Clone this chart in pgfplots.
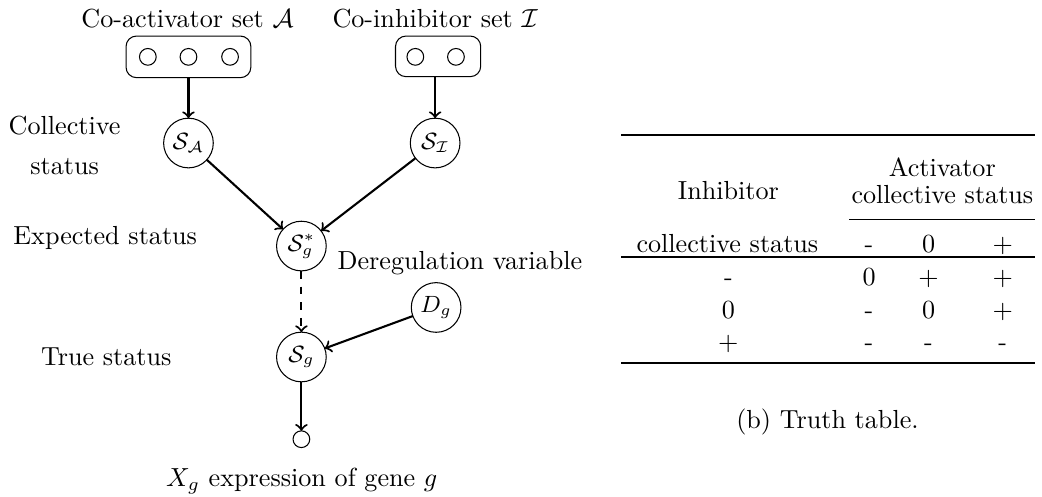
\documentclass[border=0pt]{standalone}
\usepackage{pgfplots}
\pgfplotsset{compat=1.18}
\begin{document}
\begin{tikzpicture}[tx/.style={anchor=base}]
\begin{axis}[
  scale only axis, width=394.9pt, height=188.7pt,
  xmin=0, xmax=1042, ymin=0, ymax=498, y dir=reverse,
  axis lines=none, clip=false, ticks=none]
\path (axis cs:0,0) (axis cs:1042,498);
% big nodes
\addplot[only marks, mark=o, mark size=9.5pt, mark options={line width=0.4pt}, black]
  coordinates {(188,141) (437,141) (302,245) (438,307) (302,357)};
% small nodes
\addplot[only marks, mark=o, mark size=3.2pt, mark options={line width=0.4pt}, black]
  coordinates {(147,54) (188,54) (230,54) (417,54) (458,54) (302,440)};
% boxes
\draw[rounded corners=4pt] (axis cs:125,33) rectangle (axis cs:251,75);
\draw[rounded corners=4pt] (axis cs:397,33) rectangle (axis cs:483,74);
% arrows
\draw[->, thick, shorten >=9.5pt] (axis cs:188,75) -- (axis cs:188,141);
\draw[->, thick, shorten >=9.5pt] (axis cs:437,74) -- (axis cs:437,141);
\draw[->, thick, shorten <=9.5pt, shorten >=9.5pt] (axis cs:188,141) -- (axis cs:302,245);
\draw[->, thick, shorten <=9.5pt, shorten >=9.5pt] (axis cs:437,141) -- (axis cs:302,245);
\draw[->, thick, dashed, shorten <=9.5pt, shorten >=9.5pt] (axis cs:302,245) -- (axis cs:302,357);
\draw[->, thick, shorten <=9.5pt, shorten >=9.5pt] (axis cs:438,307) -- (axis cs:302,357);
\draw[->, thick, shorten <=9.5pt, shorten >=3.2pt] (axis cs:302,357) -- (axis cs:302,440);
% node labels
\node at (axis cs:188,141) {\small$\mathcal{S}_{\mathcal{A}}$};
\node at (axis cs:437,141) {\small$\mathcal{S}_{\mathcal{I}}$};
\node at (axis cs:302,245) {\small$\mathcal{S}^{*}_{g}$};
\node at (axis cs:438,307) {\small$D_g$};
\node at (axis cs:302,357) {\small$\mathcal{S}_{g}$};
% texts
\node[tx] at (axis cs:187,24) {Co-activator set $\mathcal{A}$};
\node[tx] at (axis cs:437,24) {Co-inhibitor set $\mathcal{I}$};
\node[tx] at (axis cs:63,132) {Collective};
\node[tx] at (axis cs:63,173) {status};
\node[tx] at (axis cs:104,243) {Expected status};
\node[tx] at (axis cs:462,269) {Deregulation variable};
\node[tx] at (axis cs:105,366) {True status};
\node[anchor=base west, inner sep=0pt] at (axis cs:165,488) {$X_g$ expression of gene $g$};
% table
\draw[line width=0.8pt] (axis cs:625,133) -- (axis cs:1042,133);
\node[tx] at (axis cs:949,175) {Activator};
\node[tx] at (axis cs:949,202) {collective status};
\draw[line width=0.5pt] (axis cs:855,218) -- (axis cs:1042,218);
\node[tx] at (axis cs:733,198) {Inhibitor};
\node[tx] at (axis cs:732,252) {collective status};
\node[tx] at (axis cs:875,252) {-};
\node[tx] at (axis cs:935,252) {0};
\node[tx] at (axis cs:1010,252) {$+$};
\draw[line width=0.5pt] (axis cs:625,256) -- (axis cs:1042,256);
\node[tx] at (axis cs:733,285) {-};
\node[tx] at (axis cs:875,285) {0};
\node[tx] at (axis cs:935,285) {$+$};
\node[tx] at (axis cs:1010,285) {$+$};
\node[tx] at (axis cs:733,318) {0};
\node[tx] at (axis cs:875,318) {-};
\node[tx] at (axis cs:935,318) {0};
\node[tx] at (axis cs:1010,318) {$+$};
\node[tx] at (axis cs:733,350) {$+$};
\node[tx] at (axis cs:875,350) {-};
\node[tx] at (axis cs:935,350) {-};
\node[tx] at (axis cs:1010,350) {-};
\draw[line width=0.8pt] (axis cs:625,363) -- (axis cs:1042,363);
\node[tx] at (axis cs:833,429) {(b) Truth table.};
\end{axis}
\end{tikzpicture}
\end{document}
